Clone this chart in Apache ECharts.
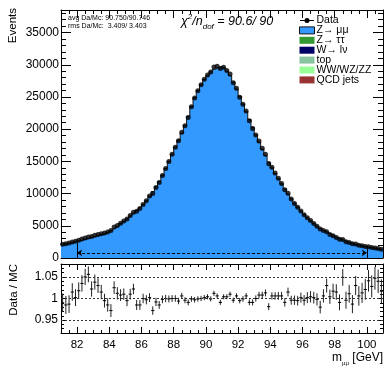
<!DOCTYPE html>
<html>
<head>
<meta charset="utf-8">
<script src="https://cdn.jsdelivr.net/npm/echarts@6/dist/echarts.min.js"></script>
<style>
  html, body { margin: 0; padding: 0; background: #fff; }
  #chart { width: 385px; height: 366px; }
</style>
</head>
<body>
<div id="chart"></div>
<script>
// binning of m_mumu [GeV]
const binStart = 81;
const binWidth = 0.2;

// Z -> mumu MC prediction per bin (events)
const mcZmumu = [
  2150, 2250, 2350, 2450, 2600, 2700, 2850, 2950, 3100, 3250,
  3400, 3550, 3700, 3900, 4100, 4400, 4700, 5000, 5350, 5700,
  6100, 6550, 6950, 7350, 7800, 8300, 8900, 9600, 10300, 11050,
  11900, 12850, 13900, 15000, 16100, 17200, 18300, 19400, 20600, 22000,
  23500, 24900, 26000, 26900, 27700, 28300, 28900, 29300, 29600, 29700,
  29500, 29000, 28300, 27300, 26200, 25100, 23900, 22700, 21500, 20300,
  19100, 18000, 16900, 15900, 14900, 14000, 13100, 12300, 11500, 10700,
  9900, 9200, 8500, 7900, 7300, 6750, 6250, 5800, 5350, 4950,
  4600, 4250, 3950, 3650, 3400, 3150, 2950, 2750, 2550, 2380,
  2230, 2100, 1980, 1870, 1760, 1670, 1580, 1490, 1410, 1340
];

// data / MC per bin
const dataOverMc = [
  0.990, 0.985, 0.987, 1.015, 1.002, 1.018, 1.035, 1.050, 1.056, 1.022,
  1.038, 1.030, 1.015, 0.995, 0.985, 0.972, 1.025, 1.012, 1.008, 1.010,
  0.995, 1.010, 1.022, 0.985, 0.985, 1.000, 0.997, 1.002, 0.972, 0.992,
  0.985, 0.998, 1.000, 0.999, 1.000, 1.000, 0.994, 1.006, 0.996, 0.991,
  0.999, 0.997, 0.999, 1.000, 1.002, 1.004, 0.999, 1.012, 1.006, 0.991,
  1.004, 1.004, 1.010, 0.996, 1.006, 0.995, 0.999, 1.006, 0.991, 0.991,
  1.000, 1.008, 1.008, 1.013, 0.981, 1.006, 1.006, 1.006, 1.006, 0.991,
  1.015, 0.996, 0.996, 0.995, 1.002, 0.996, 1.002, 1.004, 1.002, 0.998,
  0.980, 1.006, 1.030, 1.004, 1.017, 1.015, 0.991, 1.049, 0.996, 1.011,
  0.987, 1.030, 1.006, 1.013, 1.021, 1.041, 1.028, 1.047, 1.040, 1.017
];

const massTicks = [82, 84, 86, 88, 90, 92, 94, 96, 98, 100];
const eventTicks = [0, 5000, 10000, 15000, 20000, 25000, 30000, 35000];
const ratioTicks = [0.95, 1, 1.05];

// fit window markers
const fitWindow = [82, 100];
const fitArrowLevel = 800;
const fitMarkerTop = [2300, 1850];

const legendNames = ['Data', 'Z\u2192 \u03bc\u03bc', 'Z\u2192 \u03c4\u03c4', 'W\u2192 l\u03bd', 'top', 'WW/WZ/ZZ', 'QCD jets'];
const statLines = ['avg Da/Mc: 90.750/90.746', 'rms Da/Mc:  3.409/ 3.403'];

const nBins = mcZmumu.length;
const centers = mcZmumu.map((_, i) => binStart + binWidth * (i + 0.5));
const edges = mcZmumu.map((_, i) => binStart + binWidth * i).concat(binStart + binWidth * nBins);
const histLine = edges.map((x, i) => [x, mcZmumu[Math.min(i, nBins - 1)]]);
const dataCounts = mcZmumu.map((v, i) => v * dataOverMc[i]);
const dataPts = centers.map((x, i) => [x, dataCounts[i]]);
const ratioPts = centers.map((x, i) => [x, dataOverMc[i], dataOverMc[i] / Math.sqrt(dataCounts[i])]);

const FONT = 'Liberation Sans';
const black = '#000';
const xMin = binStart, xMax = binStart + binWidth * nBins;
const plain = v => String(v);

function xAxes(grid, showLabels, majorLen, minorLen) {
  const base = { gridIndex: grid, type: 'value', min: xMin, max: xMax, splitLine: { show: false } };
  const line = { show: true, onZero: false, lineStyle: { color: black, width: 1 } };
  return [
    { ...base, position: 'bottom', axisLine: line,
      axisTick: { show: true, inside: true, length: majorLen, customValues: massTicks, lineStyle: { color: black } },
      axisLabel: { show: showLabels, customValues: massTicks, formatter: plain, color: black, fontSize: 11.5, fontFamily: FONT, margin: 6 } },
    { ...base, position: 'bottom', interval: 0.5, axisLine: { show: false, onZero: false },
      axisTick: { show: true, inside: true, length: minorLen, lineStyle: { color: black } }, axisLabel: { show: false } },
    { ...base, position: 'top', axisLine: line,
      axisTick: { show: true, inside: true, length: majorLen, customValues: massTicks, lineStyle: { color: black } },
      axisLabel: { show: false } },
    { ...base, position: 'top', interval: 0.5, axisLine: { show: false, onZero: false },
      axisTick: { show: true, inside: true, length: minorLen, lineStyle: { color: black } }, axisLabel: { show: false } }
  ];
}

function yAxes(grid, min, max, minorStep, majors, majorLen, minorLen, margin) {
  const base = { gridIndex: grid, type: 'value', min: min, max: max, splitLine: { show: false } };
  const line = { show: true, onZero: false, lineStyle: { color: black, width: 1 } };
  return [
    { ...base, position: 'left', axisLine: line,
      axisTick: { show: true, inside: true, length: majorLen, customValues: majors, lineStyle: { color: black } },
      axisLabel: { show: true, customValues: majors, formatter: plain, color: black, fontSize: 12, fontFamily: FONT, margin: margin } },
    { ...base, position: 'left', interval: minorStep, axisLine: { show: false, onZero: false },
      axisTick: { show: true, inside: true, length: minorLen, lineStyle: { color: black } }, axisLabel: { show: false } },
    { ...base, position: 'right', axisLine: line,
      axisTick: { show: true, inside: true, length: majorLen, customValues: majors, lineStyle: { color: black } },
      axisLabel: { show: false } },
    { ...base, position: 'right', interval: minorStep, axisLine: { show: false, onZero: false },
      axisTick: { show: true, inside: true, length: minorLen, lineStyle: { color: black } }, axisLabel: { show: false } }
  ];
}

// legend drawn as graphic items
const legendColors = [null, '#3399ff', '#339933', '#000066', '#88c4a0', '#99ff99', '#993333'];
const legendGraphic = [];
legendNames.forEach((name, i) => {
  const cy = 20.5 + i * 9.9;
  if (i === 0) {
    legendGraphic.push({ type: 'line', shape: { x1: 300, y1: cy, x2: 314, y2: cy }, style: { stroke: black, lineWidth: 1 } });
    legendGraphic.push({ type: 'circle', shape: { cx: 307, cy: cy, r: 2.5 }, style: { fill: black } });
  } else {
    legendGraphic.push({ type: 'rect', shape: { x: 299.5, y: cy - 3.5, width: 15, height: 7 },
      style: { fill: legendColors[i], stroke: i === 1 ? '#111' : null, lineWidth: 1 } });
  }
  legendGraphic.push({ type: 'text', x: 316.5, y: cy,
    style: { text: name, fontSize: 10.5, fontFamily: FONT, fill: black, textVerticalAlign: 'middle', verticalAlign: 'middle' } });
});

const chart = echarts.init(document.getElementById('chart'), null, { renderer: 'canvas' });

const option = {
  animation: false,
  backgroundColor: '#fff',
  grid: [
    { left: 61, top: 10, width: 322, height: 248 },
    { left: 61, top: 264, width: 322, height: 69 }
  ],
  xAxis: [...xAxes(0, false, 8, 4), ...xAxes(1, true, 6, 3)],
  yAxis: [
    ...yAxes(0, 0, 38500, 1000, eventTicks, 10, 5, 2),
    ...yAxes(1, 0.92, 1.08, 0.01, ratioTicks, 6, 3, 3)
  ],
  series: [
    {
      name: 'Z\u2192 \u03bc\u03bc', type: 'line', xAxisIndex: 0, yAxisIndex: 0,
      data: histLine, step: 'end', symbol: 'none',
      lineStyle: { color: '#111', width: 1 },
      areaStyle: { color: '#3399ff', opacity: 1 },
      z: 2
    },
    {
      name: 'Data', type: 'scatter', xAxisIndex: 0, yAxisIndex: 0,
      data: dataPts, symbol: 'circle', symbolSize: 5,
      itemStyle: { color: black },
      z: 3,
      markLine: {
        silent: true, symbol: ['none', 'none'], label: { show: false },
        lineStyle: { color: black, width: 1, type: 'solid' },
        data: [
          [{ coord: [fitWindow[0], fitArrowLevel], symbol: 'arrow', symbolSize: 5 },
           { coord: [fitWindow[1], fitArrowLevel], symbol: 'arrow', symbolSize: 5,
             lineStyle: { type: [3, 2], color: black, width: 1 } }],
          [{ coord: [fitWindow[0], 0] }, { coord: [fitWindow[0], fitMarkerTop[0]] }],
          [{ coord: [fitWindow[1], 0] }, { coord: [fitWindow[1], fitMarkerTop[1]] }]
        ]
      }
    },
    {
      name: 'ratioRef', type: 'scatter', xAxisIndex: 4, yAxisIndex: 4,
      data: ratioPts.map(p => [p[0], p[1]]), symbolSize: 0, silent: true,
      markLine: {
        silent: true, symbol: ['none', 'none'], label: { show: false },
        lineStyle: { color: '#333', width: 1, type: [2, 2] },
        data: ratioTicks.map(t => ({ yAxis: t }))
      }
    },
    {
      name: 'ratio', type: 'custom', xAxisIndex: 4, yAxisIndex: 4,
      data: ratioPts, clip: true, z: 3,
      renderItem: function (params, api) {
        const x = api.value(0), r = api.value(1), e = api.value(2);
        const c = api.coord([x, r]);
        const lo = api.coord([x, r - e]);
        const hi = api.coord([x, r + e]);
        const l = api.coord([x - binWidth / 2, r]);
        const rr = api.coord([x + binWidth / 2, r]);
        return {
          type: 'group',
          children: [
            { type: 'line', shape: { x1: c[0], y1: lo[1], x2: c[0], y2: hi[1] }, style: { stroke: '#222', lineWidth: 1 } },
            { type: 'line', shape: { x1: l[0], y1: c[1], x2: rr[0], y2: c[1] }, style: { stroke: '#000', lineWidth: 1 } }
          ]
        };
      }
    }
  ],
  graphic: [
    { type: 'text', x: 13, y: 8, rotation: Math.PI / 2,
      style: { text: 'Events', fontSize: 11.5, fontFamily: FONT, fill: black,
        textAlign: 'right', align: 'right', textVerticalAlign: 'middle', verticalAlign: 'middle' } },
    { type: 'text', x: 14, y: 264, rotation: Math.PI / 2,
      style: { text: 'Data / MC', fontSize: 11.5, fontFamily: FONT, fill: black,
        textAlign: 'right', align: 'right', textVerticalAlign: 'middle', verticalAlign: 'middle' } },
    { type: 'text', x: 383, y: 358,
      style: { text: '{a|m}{s|\u03bc\u03bc}{a| [GeV]}', fill: black,
        textAlign: 'right', align: 'right', textVerticalAlign: 'middle', verticalAlign: 'middle',
        rich: {
          a: { fontSize: 12, fontFamily: FONT, lineHeight: 16 },
          s: { fontSize: 6, fontFamily: FONT, lineHeight: 8, verticalAlign: 'bottom' }
        } } },
    { type: 'text', x: 68, y: 18.5,
      style: { text: statLines[0], fontSize: 7, fontFamily: FONT, fill: black, textVerticalAlign: 'middle', verticalAlign: 'middle' } },
    { type: 'text', x: 68, y: 26,
      style: { text: statLines[1], fontSize: 7, fontFamily: FONT, fill: black, textVerticalAlign: 'middle', verticalAlign: 'middle' } },
    { type: 'text', x: 181, y: 22,
      style: { text: '{i|\u03c7}{sup|2}{i|/n}{sub|dof}{i| = 90.6/ 90}', fill: black,
        textVerticalAlign: 'middle', verticalAlign: 'middle',
        rich: {
          i: { fontSize: 12.5, fontStyle: 'italic', fontFamily: FONT, lineHeight: 18 },
          sup: { fontSize: 8, fontStyle: 'italic', fontFamily: FONT, lineHeight: 10, verticalAlign: 'top' },
          sub: { fontSize: 8, fontStyle: 'italic', fontFamily: FONT, lineHeight: 8, verticalAlign: 'bottom' }
        } } },
    ...legendGraphic
  ]
};

chart.setOption(option);
window.addEventListener('resize', chart.resize);
</script>
</body>
</html>
